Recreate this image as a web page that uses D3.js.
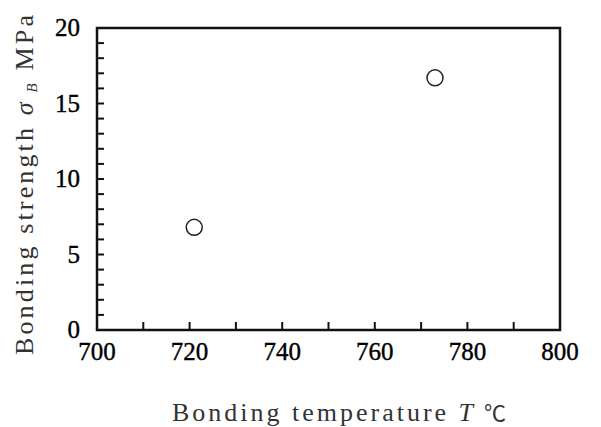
<!DOCTYPE html>
<html>
  <head>
    <meta charset="utf-8">
    <script src="https://d3js.org/d3.v7.min.js"></script>
    <style>
      body { margin: 0px; background: #fff; }
    </style>
  </head>
  <body>
    <script>
      const temperature = [721, 773];
      const strength = [6.8, 16.7];
      const xTicks = [700, 720, 740, 760, 780, 800];
      const yTicks = [0, 5, 10, 15, 20];

      const width = 601, height = 427;
      const margin = { left: 97, right: 41, top: 28, bottom: 97 };
      const innerWidth = width - margin.left - margin.right;
      const innerHeight = height - margin.top - margin.bottom;

      const svg = d3.select('body').append('svg')
        .attr('width', width)
        .attr('height', height);

      const g = svg.append('g')
        .attr('transform', `translate(${margin.left},${margin.top})`);

      const xScale = d3.scaleLinear().domain([700, 800]).range([0, innerWidth]);
      const yScale = d3.scaleLinear().domain([0, 20]).range([innerHeight, 0]);

      // minor + major ticks, pointing inward
      g.selectAll('.xtick').data(d3.range(700, 801, 10))
        .enter().append('line')
          .attr('x1', d => xScale(d)).attr('x2', d => xScale(d))
          .attr('y1', innerHeight).attr('y2', innerHeight - 8)
          .attr('stroke', '#111').attr('stroke-width', 2);

      g.selectAll('.ytick').data(d3.range(0, 21, 1))
        .enter().append('line')
          .attr('y1', d => yScale(d)).attr('y2', d => yScale(d))
          .attr('x1', 0).attr('x2', 7)
          .attr('stroke', '#111').attr('stroke-width', 2);

      g.append('rect')
        .attr('width', innerWidth).attr('height', innerHeight)
        .attr('fill', 'none').attr('stroke', '#111').attr('stroke-width', 2.5);

      g.selectAll('.xlabel').data(xTicks)
        .enter().append('text')
          .attr('x', d => xScale(d)).attr('y', innerHeight + 30)
          .attr('text-anchor', 'middle')
          .attr('font-family', 'Liberation Serif')
          .attr('font-size', 25)
          .attr('fill', '#000')
          .attr('stroke', '#000')
          .attr('stroke-width', 0.4)
          .text(d => String(d));

      g.selectAll('.ylabel').data(yTicks)
        .enter().append('text')
          .attr('x', -17).attr('y', d => yScale(d) + 8)
          .attr('text-anchor', 'end')
          .attr('font-family', 'Liberation Serif')
          .attr('font-size', 25)
          .attr('fill', '#000')
          .attr('stroke', '#000')
          .attr('stroke-width', 0.4)
          .text(d => String(d));

      g.selectAll('circle').data(temperature)
        .enter().append('circle')
          .attr('cx', d => xScale(d))
          .attr('cy', (d, i) => yScale(strength[i]))
          .attr('r', 8)
          .attr('fill', '#fff')
          .attr('stroke', '#222')
          .attr('stroke-width', 1.5);

      const xt = svg.append('text')
        .attr('font-family', 'Liberation Serif')
        .attr('font-size', 26)
        .attr('fill', '#333')
        .attr('x', 172).attr('y', 421)
        .attr('textLength', 334)
        .attr('lengthAdjust', 'spacing');
      xt.append('tspan').text('Bonding temperature ');
      xt.append('tspan').attr('font-style', 'italic').text('T');
      xt.append('tspan').attr('font-family', 'Noto Sans CJK SC').attr('font-size', 22).text(' ℃');

      const yt = svg.append('text')
        .attr('font-family', 'Liberation Serif')
        .attr('font-size', 26)
        .attr('fill', '#333')
        .attr('transform', 'translate(33,355) rotate(-90)')
        .attr('textLength', 340)
        .attr('lengthAdjust', 'spacing');
      yt.append('tspan').text('Bonding strength ');
      yt.append('tspan').attr('font-style', 'italic').text('σ');
      yt.append('tspan').attr('font-style', 'italic')
        .attr('font-size', 15).attr('dy', 4).text(' B');
      yt.append('tspan').attr('dy', -4).text(' MPa');
    </script>
  </body>
</html>
